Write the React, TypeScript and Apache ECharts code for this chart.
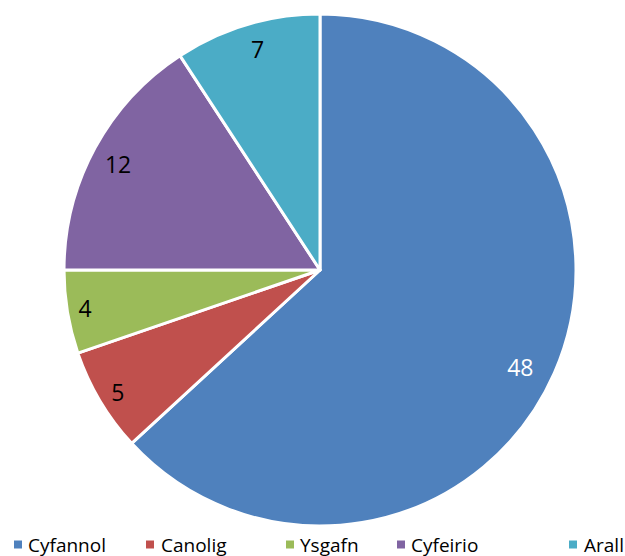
import React, { useEffect, useRef } from "react";
import * as echarts from "echarts";

const categories = ["Cyfannol", "Canolig", "Ysgafn", "Cyfeirio", "Arall"];
const values = [48, 5, 4, 12, 7];
const colors = ["#4F81BD", "#C0504D", "#9BBB59", "#8064A2", "#4BACC6"];
const labelColors = ["#FFFFFF", "#000000", "#000000", "#000000", "#000000"];
const labelOffsets = [[-13, 3], [-2, 3], [-5, 0], [3, 5], [4, 2]];
const legendLeft = [12, 144, 284, 395, 567];
const legendTextPad = [0, 1, 0, 0, 1];

const FONT = "'Open Sans', 'Noto Sans', sans-serif";

export default function App() {
  const ref = useRef<HTMLDivElement>(null);
  useEffect(() => {
    document.body.style.margin = "0";
    const chart = echarts.init(ref.current!, null, { renderer: "svg" });
    const data = categories.map((name, i) => ({
      name,
      value: values[i],
      itemStyle: { color: colors[i] },
    }));
    const labelData = categories.map((name, i) => ({
      name,
      value: values[i],
      label: { color: labelColors[i], offset: labelOffsets[i] },
    }));
    chart.setOption({
      animation: false,
      legend: categories.map((name, i) => ({
        data: [name],
        left: legendLeft[i],
        top: 535,
        padding: 0,
        itemWidth: 10,
        itemHeight: 10,
        itemGap: 0,
        icon: "rect",
        selectedMode: false,
        textStyle: {
          fontFamily: FONT,
          fontSize: 19,
          color: "#000",
          padding: [0, 0, 0, legendTextPad[i]],
        },
      })),
      series: [
        {
          type: "pie",
          center: [320, 270],
          radius: [0, 256],
          startAngle: 90,
          clockwise: true,
          silent: true,
          label: { show: false },
          labelLine: { show: false },
          itemStyle: { borderColor: "#FFFFFF", borderWidth: 3 },
          data,
        },
        {
          type: "pie",
          center: [320, 270],
          radius: [0, 460],
          startAngle: 90,
          clockwise: true,
          silent: true,
          legendHoverLink: false,
          itemStyle: { color: "rgba(0,0,0,0)" },
          label: {
            show: true,
            position: "inside",
            formatter: "{c}",
            fontFamily: FONT,
            fontSize: 23,
          },
          labelLine: { show: false },
          data: labelData,
        },
      ],
    });
    return () => chart.dispose();
  }, []);
  return <div ref={ref} style={{ width: 625, height: 556 }} />;
}
